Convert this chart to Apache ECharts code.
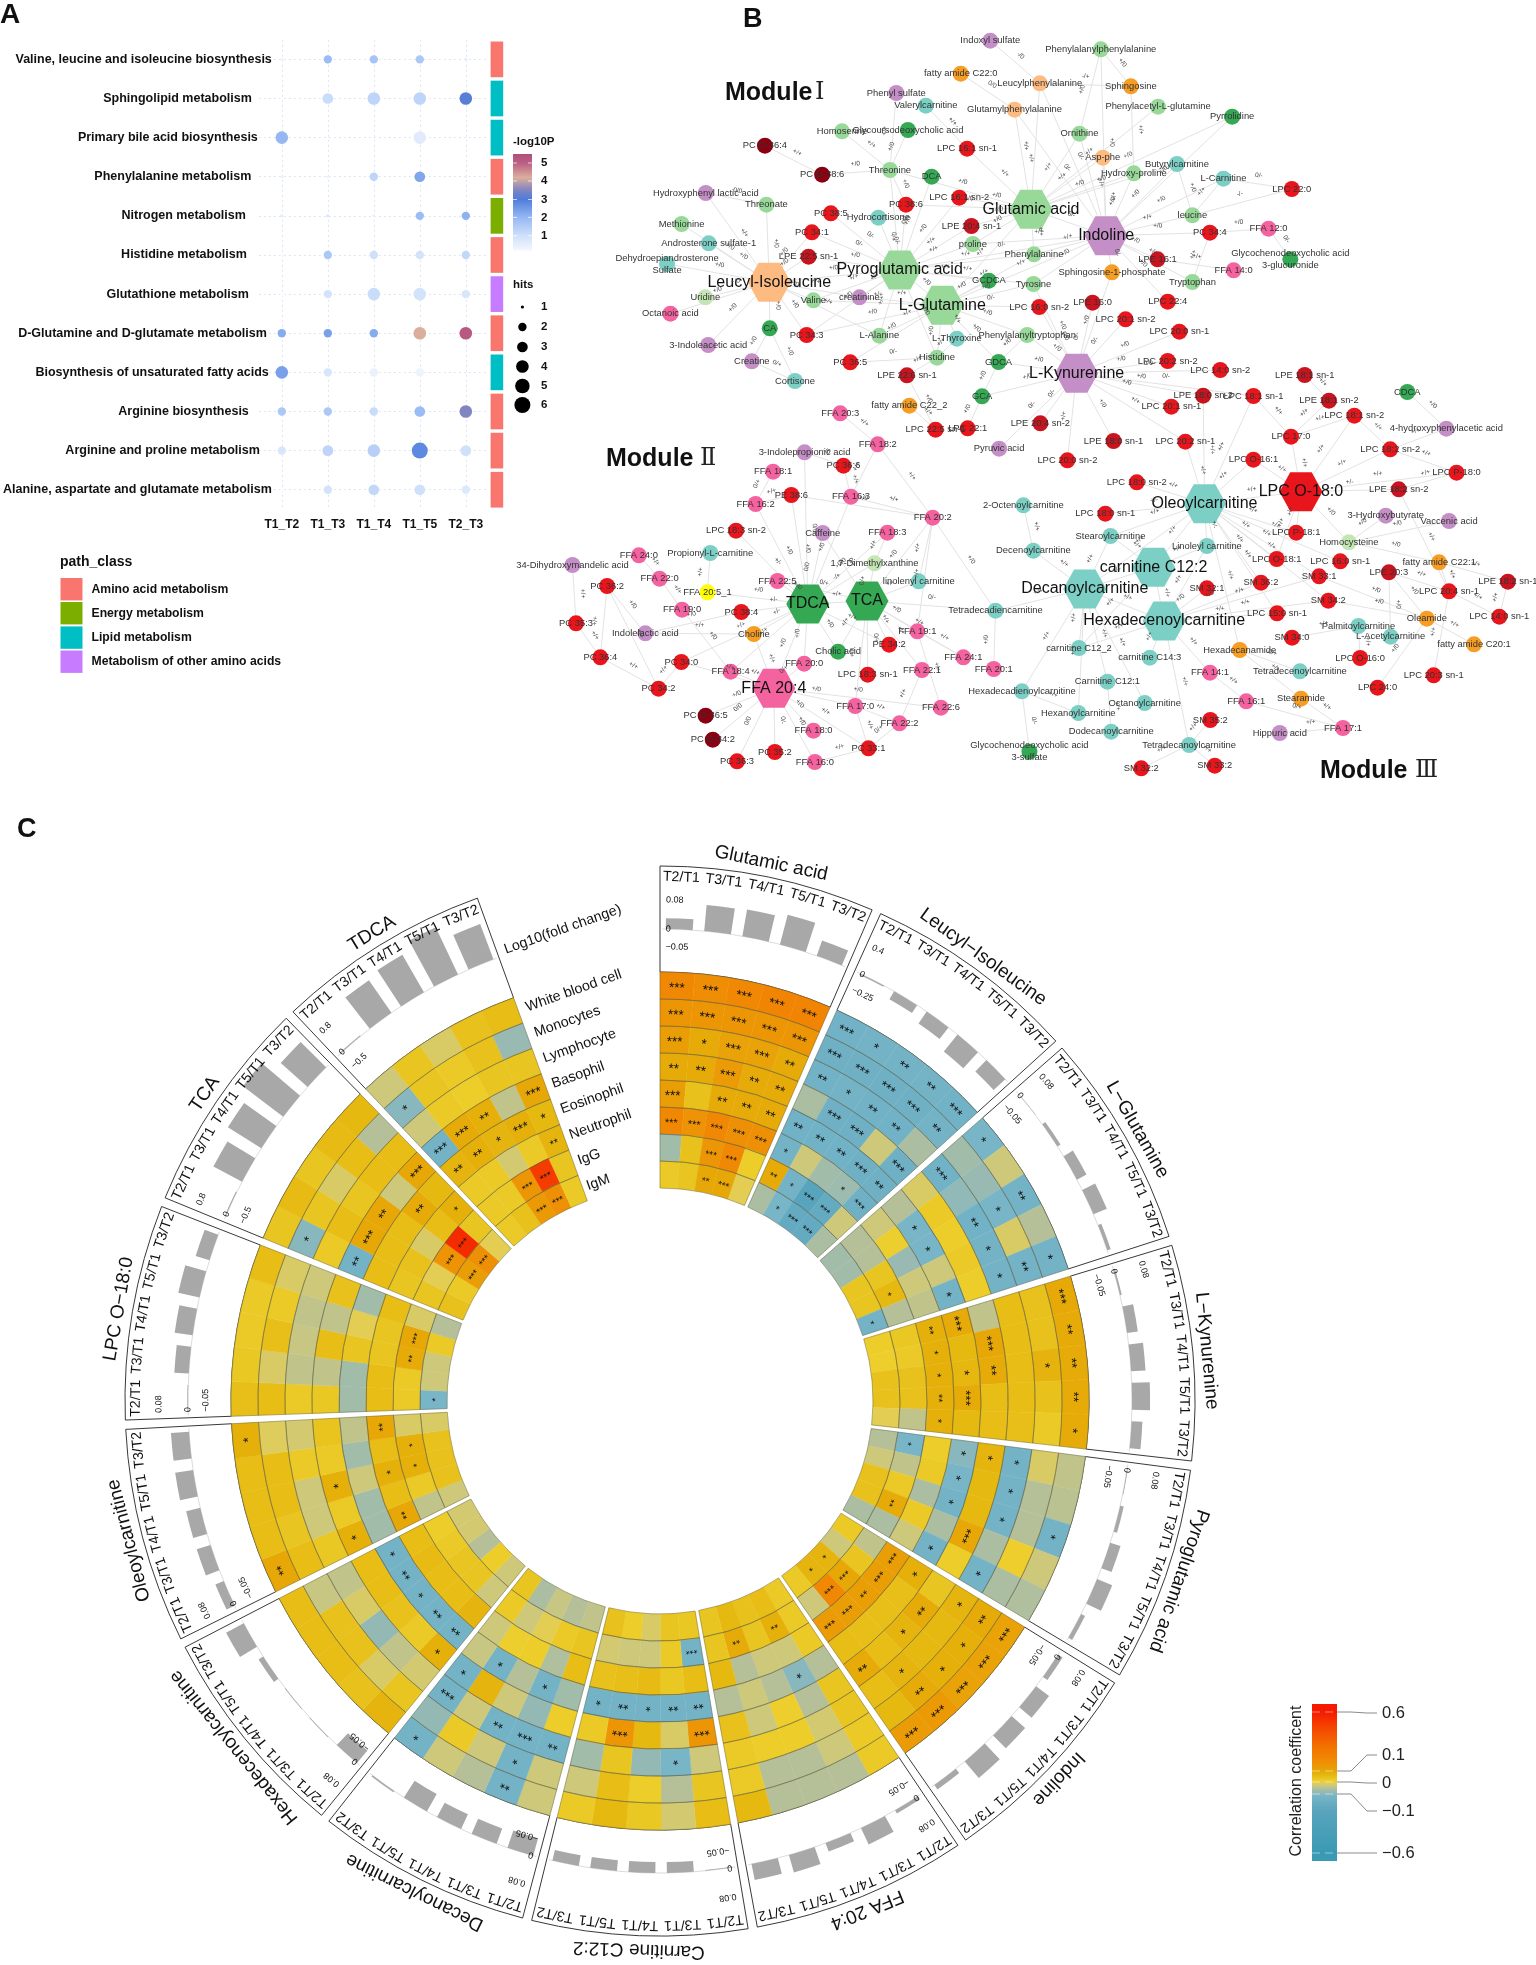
<!DOCTYPE html>
<html><head><meta charset="utf-8">
<style>html,body{margin:0;padding:0;background:#fff}#c{width:1536px;height:1965px}</style>
<script src="https://cdn.jsdelivr.net/npm/echarts@6/dist/echarts.min.js"></script>
</head><body><div id="c"></div>
<script>
/* ---------- Panel A data ---------- */
const pathways=["Valine, leucine and isoleucine biosynthesis","Sphingolipid metabolism","Primary bile acid biosynthesis","Phenylalanine metabolism","Nitrogen metabolism","Histidine metabolism","Glutathione metabolism","D-Glutamine and D-glutamate metabolism","Biosynthesis of unsaturated fatty acids","Arginine biosynthesis","Arginine and proline metabolism","Alanine, aspartate and glutamate metabolism"];
const comparisons=["T1_T2","T1_T3","T1_T4","T1_T5","T2_T3"];
const pathClass=[0,2,2,0,1,0,3,0,2,0,0,0];
const classNames=["Amino acid metabolism","Energy metabolism","Lipid metabolism","Metabolism of other amino acids"];
const logP=[[.3,1.9,1.7,1.6,.5],[.1,1.1,1.3,1.3,3.1],[2,null,null,.6,null],[.4,.4,1.3,2.3,.4],[.6,.8,.4,1.9,2.1],[.2,1.6,1,.9,1.2],[.1,.9,1.1,.9,.8],[2.2,2.4,2.2,4.2,5.2],[2.4,.8,.4,.3,null],[1.6,1.6,1.1,1.9,3.5],[.8,1.3,1.4,2.8,1],[.1,.9,1.2,1,.7]];
const hits=[[1,2,2,2,1],[1,3,4,4,4],[4,0,0,4,0],[1,1,2,3,1],[1,1,1,2,2],[1,2,2,2,2],[1,2,4,4,2],[2,2,2,4,4],[4,2,2,2,0],[2,2,2,3,4],[2,3,4,6,3],[1,2,3,3,2]];

/* ---------- Panel B data: [name, class, x, y] as read in three crops of the picture ---------- */
const nodesUpper=[["Indoxyl sulfate","p",764,122],["Phenylalanylphenylalanine","g",992,148],["fatty amide C22:0","o",703,221],["Leucylphenylalanine","d",866,250],["Sphingosine","o",1054,259],["Phenyl sulfate","p",570,279],["Valerylcarnitine","t",631,317],["Glutamylphenylalanine","d",814,329],["Phenylacetyl-L-glutamine","g",1110,320],["Pyrrolidine","b",1263,350],["Homoserine","g",458,394],["Glycoursodeoxycholic acid","b",594,390],["Ornithine","g",948,401],["PC O-36:4","k",299,437],["LPC 16:1 sn-1","r",716,446],["Asp-phe","d",996,473],["Butyrylcarnitine","t",1149,492],["PC O-38:6","k",417,524],["Threonine","g",557,510],["DCA","b",643,530],["Hydroxy-proline","g",1060,520],["L-Carnitine","t",1245,536],["LPC 22:0","r",1386,567],["Hydroxyphenyl lactic acid","p",177,579],["Threonate","g",302,614],["LPC 16:1 sn-2","r",700,593],["PC 38:6","r",590,614],["PC 38:5","r",435,640],["Hydrocortisone","t",533,653],["Glutamic acid","G",848,628],["leucine","g",1181,646],["FFA 12:0","f",1338,686],["Methionine","g",127,672],["PC 34:1","r",396,697],["LPE 20:4 sn-1","e",725,678],["Indoline","P",1003,707],["PC 34:4","r",1217,698],["Androsterone sulfate-1","t",183,730],["proline","g",728,732],["Phenylalanine","g",854,763],["Glycochenodeoxycholic acid\n3-glucuronide","b",1383,778],["LPE 22:5 sn-1","e",389,770],["LPE 16:1","e",1109,778],["Dehydroepiandrosterone\nSulfate","t",97,792],["Pyroglutamic acid","G",577,810],["FFA 14:0","f",1266,811],["Sphingosine-1-phosphate","o",1015,817],["Leucyl-Isoleucine","D",308,847],["GCDCA","b",761,842],["Tyrosine","g",853,852],["Tryptophan","g",1181,846],["Uridine","l",176,892],["creatinine","p",494,892],["Valine","g",399,901],["L-Glutamine","G",665,916],["LPC 22:4","r",1130,905],["LPE 16:0","e",975,908],["Octanoic acid","f",104,941],["LPC 16:0 sn-2","r",865,921],["LPC 20:1 sn-2","r",1043,958],["CA","b",309,985],["PC 34:3","r",385,1005],["L-Alanine","g",535,1007],["L-Thyroxine","t",695,1016],["Phenylalanyltryptophan","g",840,1005],["LPC 20:0 sn-1","r",1154,995],["3-Indoleacetic acid","p",182,1035],["Histidine","g",654,1073],["GDCA","b",781,1086],["PC 36:5","r",475,1087],["L-Kynurenine","P",942,1120],["LPC 20:2 sn-2","r",1130,1083],["Creatine","p",272,1084],["Cortisone","t",361,1143],["LPE 22:6 sn-1","e",592,1126],["GCA","b",747,1189],["fatty amide C22_2","o",597,1217]];
const nodesLeft=[["FFA 20:3","f",953,40],["LPC 22:5 sn-1","r",1220,89],["LPC 22:1","r",1310,85],["Pyruvic acid","p",1398,146],["FFA 18:2","f",1058,133],["3-Indolepropionic acid","p",853,157],["PC 36:6","r",962,197],["FFA 18:1","f",765,215],["PE 38:6","r",816,285],["FFA 16:3","f",983,290],["FFA 16:2","f",716,312],["2-Octenoylcarnitine","t",1466,316],["FFA 20:2","f",1212,353],["LPC 18:3 sn-2","r",661,392],["Caffeine","p",904,399],["FFA 18:3","f",1085,398],["Decenoylcarnitine","t",1494,452],["Propionyl-L-carnitine","t",589,459],["FFA 24:0","f",389,466],["34-Dihydroxymandelic acid","p",203,495],["1,7-Dimethylxanthine","l",1049,490],["FFA 22:0","f",447,536],["PC 36:2","r",300,558],["FFA 22:5","f",777,543],["linolenyl carnitine","t",1173,544],["FFA 20:5_1","y",581,577],["TDCA","B",862,612],["TCA","B",1028,603],["FFA 19:0","f",510,629],["Tetradecadiencarnitine","t",1388,632],["PC 38:4","r",676,636],["PC 35:3","r",213,670],["Indolelactic acid","p",407,700],["Choline","o",711,702],["FFA 19:1","f",1169,694],["Cholic acid","b",947,755],["PE 34:2","r",1090,734],["PC 36:4","r",281,772],["PC 34:0","r",508,786],["FFA 24:1","f",1298,772],["FFA 20:0","f",852,791],["FFA 18:4","f",646,815],["FFA 22:1","f",1182,810],["FFA 20:1","f",1383,807],["LPC 18:3 sn-1","r",1030,824],["PC 34:2","r",444,866],["FFA 20:4","F",767,865],["Hexadecadienoylcarnitine","t",1462,874],["FFA 17:0","f",995,918],["FFA 22:6","f",1235,923],["PC O-36:5","k",576,947],["FFA 22:2","f",1119,970],["PC O-34:2","k",596,1019],["FFA 18:0","f",878,992],["PC 33:1","r",1032,1045],["PC 35:2","r",770,1056],["PC 36:3","r",664,1084],["FFA 16:0","f",882,1086],["Glycochenodeoxycholic acid\n3-sulfate","b",1483,1055]];
const nodesRight=[["LPC 14:0 sn-2","r",644,30],["LPE 18:1 sn-1","e",891,45],["CDCA","b",1191,96],["LPE 18:0 sn-2","e",594,107],["LPC 18:1 sn-1","r",741,108],["LPE 18:1 sn-2","e",962,122],["LPC 20:1 sn-1","r",501,140],["LPC 18:1 sn-2","r",1036,167],["LPE 20:4 sn-2","e",118,190],["4-hydroxyphenylacetic acid","p",1305,206],["LPC 17:0","r",851,230],["LPE 18:0 sn-1","e",332,243],["LPC 20:2 sn-1","r",542,245],["LPC 18:2 sn-2","r",1141,268],["LPC O-16:1","r",741,299],["LPC 20:0 sn-2","r",197,301],["LPC P-18:0","r",1335,338],["LPC 18:0 sn-2","r",400,367],["LPC O-18:0","R",880,395],["LPE 18:2 sn-2","e",1166,388],["Oleoylcarnitine","T",598,431],["LPC 18:0 sn-1","r",308,461],["3-Hydroxybutyrate","p",1128,467],["Vaccenic acid","p",1313,483],["LPC P-18:1","r",866,518],["Stearoylcarnitine","t",323,528],["Homocysteine","l",1020,547],["Linoleyl carnitine","t",605,558],["carnitine C12:2","T",449,622],["LPC O-18:1","r",809,597],["LPC 16:0 sn-1","r",995,604],["fatty amide C22:1","o",1284,607],["LPE 20:3","e",1137,637],["SM 33:1","r",933,649],["SM 36:2","r",763,668],["LPE 18:2 sn-1","e",1485,665],["Decanoylcarnitine","T",248,687],["SM 32:1","r",605,685],["LPC 20:4 sn-1","r",1313,694],["SM 34:2","r",960,722],["Hexadecenoylcarnitine","T",480,783],["LPC 15:0 sn-1","r",810,760],["LPC 14:0 sn-1","r",1460,770],["Oleamide","o",1248,776],["Palmitoylcarnitine","t",1048,798],["L-Acetylcarnitine","t",1142,830],["SM 34:0","r",854,833],["fatty amide C20:1","o",1386,853],["carnitine C12_2","t",231,864],["Hexadecanamide","o",701,870],["carnitine C14:3","t",438,893],["LPC O-16:0","r",1053,894],["Tetradecenoylcarnitine","t",877,934],["LPC 20:3 sn-1","r",1268,946],["FFA 14:1","f",614,938],["Carnitine C12:1","t",314,965],["LPC 24:0","r",1104,983],["Stearamide","o",880,1016],["FFA 16:1","f",720,1024],["Octanoylcarnitine","t",423,1029],["Hexanoylcarnitine","t",229,1059],["SM 35:2","r",615,1080],["FFA 17:1","f",1003,1104],["Hippuric acid","p",818,1119],["Dodecanoylcarnitine","t",325,1115],["Tetradecanoylcarnitine","t",553,1155],["SM 32:2","r",413,1225],["SM 33:2","r",628,1217]];
/* edges: [from, sign, [to...]] */
const edgeGroups=[
["Glutamic acid","+/+",["Leucylphenylalanine","Glutamylphenylalanine","Ornithine","Asp-phe","LPC 16:1 sn-1","Phenylacetyl-L-glutamine","Phenylalanine"]],
["Glutamic acid","+/0",["Hydroxy-proline","Butyrylcarnitine","LPC 16:1 sn-2","proline","LPE 20:4 sn-1","PC 38:6","Threonine","Pyrrolidine"]],
["Indoline","+/+",["Ornithine","Asp-phe","leucine","Phenylalanine","Tryptophan","L-Glutamine","proline"]],
["Indoline","+/0",["Hydroxy-proline","Butyrylcarnitine","L-Carnitine","PC 34:4","LPE 16:1","Pyrrolidine","Tyrosine","LPC 22:4","Phenylalanylphenylalanine"]],
["Indoline","0/-",["Sphingosine-1-phosphate","Glutamic acid","Pyroglutamic acid","Leucylphenylalanine","Glutamylphenylalanine"]],
["Indoxyl sulfate","-/0",["Leucylphenylalanine"]],["Phenylalanylphenylalanine","+/0",["Sphingosine","Ornithine"]],["fatty amide C22:0","0/0",["Glutamylphenylalanine"]],["Leucylphenylalanine","-/+",["Sphingosine"]],["Sphingosine","+/+",["Hydroxy-proline"]],["Phenyl sulfate","+/+",["Threonine"]],["Valerylcarnitine","+/+",["LPC 16:1 sn-1"]],["Homoserine","+/+",["Threonine"]],["Glycoursodeoxycholic acid","+/0",["Threonine"]],["PC O-36:4","+/+",["PC O-38:6"]],["PC O-38:6","+/0",["Threonine"]],["Threonine","+/0",["PC 38:6"]],["L-Carnitine","+/+",["leucine"]],["Butyrylcarnitine","+/0",["leucine"]],["L-Carnitine","0/-",["LPC 22:0"]],["leucine","-/-",["LPC 22:0"]],["PC 34:4","+/0",["FFA 12:0"]],["PC 34:4","+/+",["Tryptophan"]],["FFA 12:0","0/-",["Glycochenodeoxycholic acid\n3-glucuronide"]],["FFA 14:0","+/+",["LPE 16:1"]],["Hydroxyphenyl lactic acid","0/0",["Threonate"]],
["Leucyl-Isoleucine","+/0",["Threonate","Methionine","Androsterone sulfate-1","Dehydroepiandrosterone\nSulfate","LPE 22:5 sn-1","PC 34:1","Uridine","Octanoic acid","CA","3-Indoleacetic acid","PC 34:3","Valine","Pyroglutamic acid"]],
["Leucyl-Isoleucine","+/+",["creatinine","L-Alanine","Hydroxyphenyl lactic acid"]],["CA","+/0",["Cortisone"]],["Creatine","0/+",["Cortisone"]],["CA","+/0",["Creatine"]],
["Pyroglutamic acid","0/-",["Hydrocortisone","PC 34:1","PC 38:5"]],
["Pyroglutamic acid","+/0",["LPE 22:5 sn-1","PC 38:6","LPC 16:1 sn-2","DCA","Threonine","L-Glutamine","Histidine","PC 34:3"]],
["Pyroglutamic acid","+/+",["proline","LPE 20:4 sn-1","Phenylalanine","GCDCA","Tyrosine","creatinine","Valine","L-Alanine"]],
["L-Glutamine","+/+",["creatinine","Valine","L-Alanine","L-Thyroxine","Phenylalanine","Glutamic acid"]],
["L-Glutamine","+/0",["PC 34:3","Histidine","PC 36:5","GCDCA","GDCA","Phenylalanyltryptophan","Tyrosine"]],["L-Glutamine","0/-",["LPC 16:0 sn-2"]],
["L-Kynurenine","+/0",["Phenylalanyltryptophan","LPC 20:0 sn-1","LPC 20:2 sn-2","LPC 20:1 sn-1","LPE 18:0 sn-2","GDCA","GCA","Tyrosine","Sphingosine-1-phosphate","LPE 18:0 sn-1"]],
["L-Kynurenine","0/0",["LPC 14:0 sn-2","LPC 16:0 sn-2"]],["L-Kynurenine","0/-",["LPE 16:0","LPC 20:1 sn-2","LPC 18:1 sn-1","LPE 20:4 sn-2","Pyruvic acid"]],["L-Kynurenine","+/+",["LPC 20:2 sn-1","LPC 20:0 sn-2"]],
["L-Thyroxine","+/+",["Histidine"]],["Histidine","0/-",["PC 36:5"]],["LPE 22:6 sn-1","+/+",["Histidine"]],["GCA","+/0",["GDCA"]],["GDCA","+/0",["Phenylalanyltryptophan"]],["fatty amide C22_2","+/+",["LPC 22:5 sn-1"]],["LPC 22:1","+/0",["GCA"]],["LPC 22:5 sn-1","+/0",["LPE 22:6 sn-1"]],
["TDCA","+/0",["FFA 22:5","FFA 20:5_1","FFA 20:0","Cholic acid","FFA 20:4","FFA 16:2","FFA 16:3","PE 38:6"]],["TDCA","0/0",["Caffeine","3-Indolepropionic acid","FFA 18:3"]],["TDCA","+/-",["PC 38:4","Choline","LPC 18:3 sn-2"]],["TDCA","+/+",["PE 34:2","TCA","PC 34:0","FFA 18:4"]],["TDCA","-/+",["1,7-Dimethylxanthine"]],
["TCA","0/+",["FFA 22:5","1,7-Dimethylxanthine","LPC 18:3 sn-1","Caffeine"]],["TCA","+/-",["linolenyl carnitine"]],["TCA","0/-",["Tetradecadiencarnitine"]],["TCA","+/0",["FFA 19:1","FFA 20:2","FFA 17:0"]],["TCA","+/+",["PE 34:2","Cholic acid","FFA 24:1","FFA 22:1"]],
["FFA 20:4","+/+",["FFA 18:4","PC 34:0","Choline","PC 33:1"]],["FFA 20:4","0/+",["FFA 20:0"]],["FFA 20:4","+/0",["FFA 17:0","FFA 22:6","PC O-36:5","FFA 18:0","FFA 16:0"]],["FFA 20:4","0/0",["PC O-34:2","PC 36:3"]],["FFA 20:4","0/-",["PC 35:2"]],
["FFA 20:3","+/+",["FFA 18:2"]],["FFA 18:2","+/+",["FFA 16:3","FFA 20:2"]],["FFA 18:1","0/+",["FFA 16:2"]],["FFA 16:2","+/+",["PE 38:6"]],["PE 38:6","+/0",["FFA 20:2"]],["3-Indolepropionic acid","-/0",["PC 36:6"]],["PC 36:6","+/+",["FFA 16:3"]],["FFA 16:3","+/+",["FFA 20:2"]],["FFA 18:3","+/+",["1,7-Dimethylxanthine"]],["FFA 20:2","+/+",["linolenyl carnitine","FFA 19:1"]],["FFA 20:2","+/0",["Tetradecadiencarnitine"]],["FFA 24:0","+/+",["FFA 22:0"]],["FFA 22:0","+/+",["FFA 19:0"]],["Propionyl-L-carnitine","+/+",["FFA 20:5_1"]],["34-Dihydroxymandelic acid","+/+",["PC 35:3"]],["PC 35:3","+/+",["PC 36:4"]],["PC 36:2","+/+",["PC 36:4"]],["PC 36:2","+/0",["Indolelactic acid"]],["PC 36:2","+/+",["PC 34:2"]],["PC 36:4","+/+",["PC 34:2"]],["PC 34:2","+/+",["PC 34:0"]],["Indolelactic acid","+/+",["Choline"]],["FFA 19:0","+/0",["FFA 18:4"]],["PC 38:4","+/0",["Indolelactic acid"]],["FFA 19:1","+/+",["FFA 22:6","FFA 24:1"]],["FFA 22:1","+/+",["FFA 22:2"]],["FFA 17:0","+/+",["FFA 22:2","PC 33:1"]],["FFA 22:2","0/+",["PC 33:1"]],["FFA 16:0","+/+",["PC 33:1"]],["Tetradecadiencarnitine","+/0",["FFA 20:1"]],["2-Octenoylcarnitine","+/+",["Decenoylcarnitine"]],["Hexadecadienoylcarnitine","0/-",["Glycochenodeoxycholic acid\n3-sulfate"]],
["LPC O-18:0","+/+",["LPC 17:0","LPC O-16:1","LPC 18:2 sn-2","LPC P-18:0","LPC 18:1 sn-2","LPC P-18:1","LPC O-18:1","Oleoylcarnitine"]],["LPC O-18:0","+/-",["LPE 18:2 sn-2"]],["LPC O-18:0","+/0",["Homocysteine"]],
["Oleoylcarnitine","+/+",["LPE 18:0 sn-2","LPC 18:1 sn-1","LPC 20:2 sn-1","LPC 18:0 sn-2","LPC O-16:1","Stearoylcarnitine","carnitine C12:2","LPC P-18:1","LPC O-18:1","SM 36:2","SM 33:1","SM 34:2","LPC 15:0 sn-1","Hexadecanamide","LPC 16:0 sn-1","Decanoylcarnitine"]],["Oleoylcarnitine","+/-",["LPC 18:0 sn-1","Linoleyl carnitine"]],
["Hexadecenoylcarnitine","+/+",["SM 34:2","carnitine C12_2","carnitine C14:3","FFA 14:1","Tetradecanoylcarnitine","Decanoylcarnitine","carnitine C12:2","Linoleyl carnitine","SM 33:1","LPC 15:0 sn-1"]],["Hexadecenoylcarnitine","+/0",["SM 32:1","SM 36:2"]],
["Decanoylcarnitine","+/+",["Decenoylcarnitine","Tetradecadiencarnitine","Stearoylcarnitine","carnitine C12_2","Hexadecadienoylcarnitine","Hexanoylcarnitine","Carnitine C12:1","carnitine C12:2","Octanoylcarnitine"]],["carnitine C12:2","+/+",["Stearoylcarnitine","Linoleyl carnitine","carnitine C12_2"]],
["LPE 18:1 sn-1","+/+",["LPE 18:1 sn-2"]],["LPC 18:1 sn-1","+/+",["LPC 17:0"]],["LPE 18:1 sn-2","+/+",["LPC 17:0"]],["LPC 18:1 sn-2","+/+",["LPC 17:0","LPC 18:2 sn-2"]],["LPC 18:2 sn-2","+/+",["LPC P-18:0","4-hydroxyphenylacetic acid"]],["LPC P-18:0","+/+",["LPE 18:2 sn-2"]],["4-hydroxyphenylacetic acid","+/0",["CDCA"]],["LPE 18:2 sn-2","+/+",["LPC 20:4 sn-1"]],["Vaccenic acid","+/0",["Homocysteine"]],["3-Hydroxybutyrate","+/0",["Homocysteine"]],["fatty amide C22:1","+/0",["Homocysteine"]],["fatty amide C22:1","+/+",["LPE 18:2 sn-1","LPC 20:4 sn-1"]],["LPE 18:2 sn-1","+/+",["LPC 14:0 sn-1"]],["LPC 20:4 sn-1","+/+",["LPC 14:0 sn-1","LPC 20:3 sn-1","LPE 20:3"]],["Oleamide","+/+",["fatty amide C20:1"]],["Oleamide","+/0",["SM 34:2","LPC 24:0","LPE 20:3","SM 33:1"]],["L-Acetylcarnitine","+/0",["LPE 20:3"]],["Palmitoylcarnitine","+/+",["SM 34:0"]],["LPC O-16:0","+/+",["Palmitoylcarnitine"]],["Tetradecenoylcarnitine","0/+",["Hexadecanamide"]],["Tetradecanoylcarnitine","+/+",["SM 32:2","SM 33:2","SM 35:2"]],["FFA 14:1","+/+",["FFA 16:1"]],["FFA 16:1","0/+",["FFA 17:1"]],["Stearamide","+/+",["FFA 17:1"]],["Hexadecanamide","+/+",["Stearamide"]],["Hippuric acid","+/+",["FFA 17:1"]],["Carnitine C12:1","+/+",["Dodecanoylcarnitine"]],["Hexanoylcarnitine","+/+",["Hexadecadienoylcarnitine"]]
];

/* ---------- Panel C data ---------- */
const sectorNames=["Glutamic acid","Leucyl−Isoleucine","L−Glutamine","L−Kynurenine","Pyroglutamic acid","Indoline","FFA 20:4","Carnitine C12:2","Decanoylcarnitine","Hexadecenoylcarnitine","Oleoylcarnitine","LPC O−18:0","TCA","TDCA"];
const timeLabels=["T2/T1","T3/T1","T4/T1","T5/T1","T3/T2"];
const rowNames=["White blood cell","Monocytes","Lymphocyte","Basophil","Eosinophil","Neutrophil","IgG","IgM"];
const heatGlutamicAcid=[[.2,.18,.2,.22,.22],[.15,.15,.15,.15,.15],[.12,.09,.11,.11,.09],[.09,.09,.13,.09,.09],[.12,.04,.09,.09,.09],[.2,.16,.2,.17,.17],[-.07,.04,.15,.2,.015],[.02,.03,.1,.1,-.01]];
const heatLeucylIsoleucine=[[-.14,-.13,-.13,-.13,-.14],[-.15,-.15,-.15,-.15,-.13],[-.14,-.13,-.14,-.14,-.06],[-.06,-.15,-.15,-.03,-.15],[-.14,-.14,-.14,-.15,-.15],[-.13,-.03,-.07,-.075,-.15],[.09,-.13,-.25,-.2,-.03],[-.06,-.12,-.2,-.2,-.06]];
const heatLGlutamine=[[-.12,-.03,-.13,-.05,-.13],[-.07,-.08,-.12,-.02,-.13],[-.14,-.09,-.14,-.13,-.13],[-.02,.02,.015,.02,.015],[-.05,-.12,-.12,-.03,-.13],[-.03,.01,-.08,-.03,-.04],[-.05,-.05,.03,.06,-.05],[-.07,-.07,.03,.03,-.13]];
const heatLKynurenine=[[.095,.09,.09,.09,.09],[.04,.04,.075,.04,.02],[.05,.05,.05,.05,.045],[-.04,.1,.09,.05,.05],[.09,.06,.065,.09,.06],[.08,.08,.08,.08,.08],[.025,.02,.04,.04,-.04],[.015,.012,.04,.04,-.01]];
const heatPyroglutamicAcid=[[-.04,-.045,-.13,-.03,-.055],[-.02,-.05,-.05,.012,-.06],[-.13,-.13,-.13,-.06,-.13],[.07,.06,.06,.1,.015],[-.1,-.12,-.13,-.06,-.13],[.015,.02,-.06,.02,-.03],[-.12,-.04,.02,.09,-.06],[-.05,-.03,.04,.04,-.06]];
const heatIndoline=[[.11,.11,.11,.14,.13],[.09,.08,.08,.09,.06],[.07,.06,.06,.07,.05],[.03,.09,.07,.05,.09],[.08,.045,.045,.045,.05],[.12,.12,.12,.12,.13],[-.04,.03,.1,.2,-.03],[.02,-.03,.07,.07,.02]];
const heatFFA204=[[.02,-.05,-.05,-.05,.06],[.02,-.03,-.05,-.05,.02],[.03,-.025,.015,.015,.02],[.03,-.05,.012,-.03,.04],[-.05,-.1,-.05,-.03,-.05],[.02,-.03,-.03,-.05,.06],[.02,.08,.03,.09,.03],[.02,.05,.04,.06,.03]];
const heatCarnitineC122=[[.05,-.025,.025,.06,.02],[.03,-.05,.015,.05,-.03],[-.03,-.12,-.085,.03,-.07],[.15,-.02,.06,.15,.02],[-.13,-.13,-.13,-.13,-.13],[.05,.025,.055,.045,.04],[-.13,.02,-.03,-.03,-.025],[.025,.03,-.02,.015,.04]];
const heatDecanoyl=[[-.03,-.13,-.05,-.03,-.13],[-.03,-.13,-.03,.02,-.085],[-.13,-.13,-.13,-.03,-.13],[.015,-.085,-.03,.07,-.13],[-.07,-.13,-.05,-.13,-.035],[.05,-.055,.015,.01,-.03],[.03,.02,-.01,-.03,.02],[-.04,-.05,-.035,-.06,.03]];
const heatHexadecenoyl=[[.07,.04,.05,.05,.05],[.03,-.02,.04,.04,-.035],[-.025,-.04,-.085,-.02,-.04],[.08,.02,.04,.05,.05],[-.13,-.13,-.13,-.13,-.13],[.07,.05,.05,.055,.05],[-.03,.03,.03,.02,.015],[-.03,.015,-.05,-.025,-.025]];
const heatOleoyl=[[.1,.05,.05,.05,.08],[.05,.03,.05,.05,-.015],[.025,-.03,-.03,.02,-.025],[.08,.02,.08,.02,.035],[-.07,-.07,-.03,-.07,-.04],[.1,.05,.08,.05,.1],[-.04,.02,.08,.08,-.02],[-.03,.04,.04,.04,-.02]];
const heatLPCO180=[[.045,.025,.02,.02,.05],[.05,-.02,.045,.02,-.02],[.02,-.04,-.035,-.04,-.03],[.025,-.04,.05,-.04,.04],[-.07,-.07,.03,-.01,-.07],[.05,.05,.03,.03,.05],[.02,.02,.09,.1,-.02],[-.12,-.03,-.03,.02,-.05]];
const heatTCA=[[.03,.055,.03,.055,.06],[-.1,.03,-.02,.05,-.05],[.02,.05,.03,.05,.05],[-.13,.1,.1,-.03,.1],[.05,.05,.05,.09,.06],[.03,.04,-.02,.05,.08],[.03,-.01,.16,.55,.03],[.04,.02,.12,.17,-.01]];
const heatTDCA=[[-.03,.03,-.02,.04,.05],[-.1,.03,.02,.04,-.08],[-.03,.02,.015,.03,.03],[-.13,.09,.08,-.04,.1],[.07,.08,.07,.08,.06],[.02,.02,-.025,.02,.07],[.02,.02,.15,.5,.03],[.02,.04,.14,.17,.02]];
const heatValues=[heatGlutamicAcid,heatLeucylIsoleucine,heatLGlutamine,heatLKynurenine,heatPyroglutamicAcid,heatIndoline,heatFFA204,heatCarnitineC122,heatDecanoyl,heatHexadecenoyl,heatOleoyl,heatLPCO180,heatTCA,heatTDCA];
/* number of asterisks in each cell */
const starCounts=[["33333","33333","31332","22322","30222","33333","00330","00230"],["31223","33332","21220","03303","22232","10013","21330","01330"],["10201","00102","30211","00000","01101","00000","00010","00001"],["32221","00100","00000","03200","30130","21121","00000","00000"],["00100","00000","11101","10030","11101","00000","10020","00000"],["33333","21120","10010","02102","10000","33233","00330","00110"],["00000","00000","00000","00000","01000","00000","02020","00000"],["00000","00000","01000","30030","22121","00000","30000","00000"],["02001","01000","23203","00001","01010","00000","00000","00000"],["00000","00000","00000","10000","22121","00000","00000","00000"],["20001","00000","00000","10100","00000","20102","00110","00000"],["00000","00000","00000","00000","00000","00000","00230","10000"],["00000","10000","00000","23203","00020","00001","00330","00330"],["00000","10000","00000","33203","22131","00002","00330","00330"]];
const foldChange=[[.03,.072,.075,.085,.045],[-.02,-.13,-.2,-.3,-.22],[.001,.01,.03,.04,.01],[.005,.03,.04,.05,.03],[.002,.01,.03,.045,.012],[.015,.045,.05,.06,.015],[.01,.05,.025,.05,.045],[-.002,-.03,-.03,-.03,-.03],[-.05,-.045,-.045,-.055,.004],[-.045,.002,.002,.015,.055],[.025,.04,.04,.05,.05],[.002,.04,.05,.06,.04],[.03,.9,1.1,1.4,1],[.03,1.1,1.2,1.45,1.05]];
const foldTicks=[["0.08","−0.05"],["0.4","−0.25"],["0.08","−0.05"],["0.08","−0.05"],["0.08","−0.05"],["0.08","−0.05"],["0.08","−0.05"],["0.08","−0.05"],["0.08","−0.05"],["0.08","−0.05"],["0.08","−0.05"],["0.08","−0.05"],["0.8","−0.5"],["0.8","−0.5"]];

/* ---------- colour scales ---------- */
function hexRgb(h){return [parseInt(h.slice(1,3),16),parseInt(h.slice(3,5),16),parseInt(h.slice(5,7),16)];}
function ramp(stops,v){
  if(v<=stops[0][0])return stops[0][1];
  for(let i=1;i<stops.length;i++){if(v<=stops[i][0]){
    const t=(v-stops[i-1][0])/(stops[i][0]-stops[i-1][0]),a=hexRgb(stops[i-1][1]),b=hexRgb(stops[i][1]);
    return 'rgb('+a.map((c,k)=>Math.round(c+(b[k]-c)*t)).join(',')+')';}}
  return stops[stops.length-1][1];
}
const corrStops=[[-.6,'#3a9ab3'],[-.25,'#58a4bc'],[-.15,'#6fb0c5'],[-.12,'#77b5c7'],[-.08,'#98bab2'],[-.05,'#b5c099'],[-.03,'#cdc87a'],[-.01,'#e3cd52'],[.012,'#edce2c'],[.03,'#e9c521'],[.06,'#e6b911'],[.09,'#e6ab08'],[.12,'#ea9e06'],[.2,'#f18804'],[.3,'#f27400'],[.5,'#f53c00'],[.6,'#f51a00']];
const pStops=[[.1,'#ffffff'],[.3,'#eef4fd'],[1,'#cfe0fa'],[2,'#95b8f3'],[3,'#4f7ddb'],[3.3,'#6a80cc'],[3.6,'#8d88bd'],[4.2,'#dbae9b'],[5,'#bb5f86'],[5.5,'#b0507a']];
const classColors=['#f8766d','#7cae00','#00bfc4','#c77cff'];
const hitSize={1:3.2,2:8.4,3:10.7,4:12.6,5:14.5,6:16};
const nodeColor={p:'#c48ec6',P:'#c48ec6',g:'#98d99a',G:'#98d99a',l:'#c4e6b4',o:'#f59d24',d:'#fdbb82',D:'#fdbb82',t:'#7ccfc4',T:'#7ccfc4',b:'#34a853',B:'#34a853',r:'#e8161c',R:'#e8161c',e:'#c9141f',k:'#8b0010',f:'#f4629f',F:'#f4629f',y:'#ffff00'};

/* ---------- build panel A ---------- */
const labelRight=[270,250,256,249.5,244,245,247,265,267,247,258,270];
const FONT='"Liberation Sans",Arial,sans-serif';
const richY={};labelRight.forEach((r,i)=>{richY['p'+i]={fontFamily:FONT,fontWeight:'bold',fontSize:12.5,color:'#111',padding:[0,271-r,0,0]};});
const bubbleData=[];logP.forEach((row,y)=>row.forEach((p,x)=>{if(p!==null&&hits[y][x]>0)bubbleData.push([x,y,p,hits[y][x]]);}));

/* ---------- build panel B ---------- */
const allNodes=[];
nodesUpper.forEach(n=>allNodes.push([n[0],n[1],620+n[2]*.4847,n[3]/3]));
nodesLeft.forEach(n=>allNodes.push([n[0],n[1],500+n[2]*.357,400+n[3]/3]));
nodesRight.forEach(n=>allNodes.push([n[0],n[1],1000+n[2]*.342,360+n[3]/3]));
const idx={};allNodes.forEach((n,i)=>{idx[n[0]]=i;});
const hexPath='path://M-2,0 L-1,-1.732 L1,-1.732 L2,0 L1,1.732 L-1,1.732 Z';
const graphNodes=allNodes.map(n=>{
  const hub=/[A-Z]/.test(n[1]);
  return {name:n[0],value:[n[2],n[3]],symbol:hub?hexPath:'circle',symbolSize:hub?[43,39]:16,itemStyle:{color:nodeColor[n[1]]},
    label:{show:true,position:'inside',fontFamily:FONT,fontSize:hub?16:9.4,color:hub?'#111':'#333',lineHeight:hub?17:12}};
});
const graphLinks=[];edgeGroups.forEach(g=>g[2].forEach(t=>{if(idx[g[0]]!==undefined&&idx[t]!==undefined)graphLinks.push({source:idx[g[0]],target:idx[t],sign:g[1]});else console.log('missing',g[0],t);}));

/* ---------- build panel C ---------- */
const CX=660,CY=1401,R_OUT=429,ROW=27,R_BAR=472,R_FRAME=535;
const PITCH=24.36,SPAN=23.36,COLW=SPAN/5;
const rad=a=>(a-90)*Math.PI/180;
const cellData=[],rowData=[],frameData=[],barData=[],textItems=[];
sectorNames.forEach((nm,s)=>{
  const a0=s*PITCH,a1=a0+SPAN;
  frameData.push([R_FRAME,a0,a1]);
  rowNames.forEach((rn,r)=>{
    const rr=R_OUT-ROW*r;
    rowData.push([rr,a0,a1]);
    for(let c=0;c<5;c++){
      const a=a0+COLW*(c+.5);
      cellData.push([rr-ROW/2,a,heatValues[s][r][c],+starCounts[s][r][c],r]);
    }
  });
  const scale=s===1?72.5:(s>=12?36:362);
  foldChange[s].forEach((v,c)=>barData.push([R_BAR+v*scale,a0+COLW*(c+.5),v]));
  textItems.push({r:549,a:a0+SPAN/2,text:nm,size:19,align:'center'});
  timeLabels.forEach((t,c)=>textItems.push({r:524,a:a0+COLW*(c+.5),text:t,size:14.2,align:'center'}));
  textItems.push({r:501,a:a0+.7,text:foldTicks[s][0],size:9,align:'left'});
  textItems.push({r:472,a:a0+.7,text:'0',size:9,align:'left'});
  textItems.push({r:454,a:a0+.7,text:foldTicks[s][1],size:9,align:'left'});
});
rowNames.forEach((t,r)=>textItems.push({r:R_OUT-ROW*(r+.5),a:341.2,text:t,size:14.3,align:'left',rot:-19.5}));
textItems.push({r:477,a:341,text:'Log10(fold change)',size:14.3,align:'left',rot:-19.5});

/* ---------- graphics (legends and panel letters) ---------- */
const g=[];
function T(text,x,y,o){o=o||{};g.push({type:'text',x,y,rotation:o.rot||0,silent:true,style:{text,fill:o.fill||'#111',font:(o.w||'normal')+' '+(o.s||12)+'px '+(o.f||FONT),textAlign:o.al||'left',textVerticalAlign:'middle',align:o.al||'left',verticalAlign:'middle'}});}
T('A',0,15,{s:28,w:'bold'});T('B',743,20,{s:27,w:'bold'});T('C',17,830,{s:27,w:'bold'});
T('-log10P',513,142,{s:11.5,w:'bold'});
g.push({type:'rect',shape:{x:513,y:154,width:19,height:98},silent:true,style:{fill:new echarts.graphic.LinearGradient(0,0,0,1,pStops.map(s=>({offset:(5.5-s[0])/5.4,color:s[1]})).reverse())}});
[[5,163],[4,181],[3,199.5],[2,217.4],[1,235.7]].forEach(t=>{T(String(t[0]),541,t[1],{s:11.5,w:'bold'});
 g.push({type:'line',shape:{x1:513,y1:t[1],x2:517,y2:t[1]},silent:true,style:{stroke:'#fff',lineWidth:.7}});g.push({type:'line',shape:{x1:528,y1:t[1],x2:532,y2:t[1]},silent:true,style:{stroke:'#fff',lineWidth:.7}});});
T('hits',513,285,{s:11.5,w:'bold'});
[1,2,3,4,5,6].forEach((h,i)=>{const y=[307,327,347,366.5,386,405][i];g.push({type:'circle',shape:{cx:522.4,cy:y,r:hitSize[h]/2},silent:true,style:{fill:'#000'}});T(String(h),541,y,{s:11.5,w:'bold'});});
T('path_class',60,562.6,{s:14,w:'bold'});
classNames.forEach((c,i)=>{const y=[578,602,626.4,650.5][i];g.push({type:'rect',shape:{x:60.5,y,width:22,height:22.4},silent:true,style:{fill:classColors[i]}});T(c,91.5,y+11.4,{s:12.2,w:'bold'});});
[['Ⅰ',725,93,815],['Ⅱ',606,459,700],['Ⅲ',1320,771,1415]].forEach(m=>{T('Module',m[1],m[2],{s:25,w:'bold'});T(m[0],m[3],m[2],{s:24,f:'"DejaVu Serif","Liberation Serif",serif',fill:'#222'});});
/* correlation colour legend */
const yOf=[[.6,1712],[.1,1771],[0,1782],[-.1,1794],[-.6,1853]];
function legendY(v){for(let i=1;i<yOf.length;i++){if(v>=yOf[i][0]){const t=(v-yOf[i][0])/(yOf[i-1][0]-yOf[i][0]);return yOf[i][1]+(yOf[i-1][1]-yOf[i][1])*t;}}return 1853;}
const barStops=corrStops.slice().reverse().map(s=>({offset:(legendY(s[0])-1704)/157,color:s[1]}));
barStops.unshift({offset:0,color:'#f51a00'});barStops.push({offset:1,color:'#3a9ab3'});
g.push({type:'rect',shape:{x:1312,y:1704,width:25,height:157},silent:true,style:{fill:new echarts.graphic.LinearGradient(0,0,0,1,barStops)}});
[[1712,1713,'0.6'],[1771,1755,'0.1'],[1782,1783,'0'],[1794,1811,'−0.1'],[1853,1853,'−0.6']].forEach(l=>{
  g.push({type:'line',shape:{x1:1312,y1:l[0],x2:1337,y2:l[0]},silent:true,style:{stroke:'#fff',opacity:.6,lineWidth:.8,lineDash:[8,5]}});
  const pts=l[0]===l[1]?[[1337,l[0]],[1377,l[1]]]:[[1337,l[0]],[1351,l[0]],[1367,l[1]],[1377,l[1]]];
  g.push({type:'polyline',shape:{points:pts},silent:true,style:{stroke:'#8a8a8a',lineWidth:1,fill:'none'}});
  T(l[2],1382,l[1],{s:16.5,fill:'#222'});
});
T('Correlation coefficent',1297,1781,{s:16,al:'center',rot:Math.PI/2,fill:'#222'});

/* ---------- option ---------- */
const polarCoordSeries=(name,data,render,z)=>({type:'custom',name,coordinateSystem:'polar',polarIndex:0,data,renderItem:render,silent:true,clip:false,animation:false,z:z||2,encode:{radius:0,angle:1}});
function textRender(p,api){
  const t=textItems[p.dataIndex];const pt=api.coord([t.r,t.a]);
  const rotDeg=t.rot!==undefined?t.rot:t.a;
  return {type:'text',x:pt[0],y:pt[1],rotation:-rotDeg*Math.PI/180,silent:true,style:{text:t.text,fill:'#111',font:t.size+'px '+FONT,align:t.align,verticalAlign:'middle',textAlign:t.align,textVerticalAlign:'middle'}};
}
const option={
  animation:false,
  backgroundColor:'#fff',
  graphic:{elements:g},
  grid:[{left:256.8,top:39.8,width:232,height:469.5},{left:490.6,top:39.8,width:12.6,height:469.5},{left:0,top:0,width:1536,height:830}],
  xAxis:[
    {gridIndex:0,type:'category',data:comparisons,axisLine:{show:false},axisTick:{show:false},axisLabel:{fontFamily:FONT,fontWeight:'bold',fontSize:12,color:'#111',margin:9,interval:0},splitLine:{show:true,alignWithLabel:true,lineStyle:{type:[2,3],color:'#dbe6f3',width:1}}},
    {gridIndex:1,type:'value',min:0,max:1,show:false},
    {gridIndex:2,type:'value',min:0,max:1536,show:false}
  ],
  yAxis:[
    {gridIndex:0,type:'category',inverse:true,data:pathways,axisLine:{show:false},axisTick:{show:false},axisLabel:{interval:0,margin:-14,formatter:(v,i)=>'{p'+i+'|'+v+'}',rich:richY},splitLine:{show:true,alignWithLabel:true,lineStyle:{type:[2,3],color:'#dbe6f3',width:1}}},
    {gridIndex:1,type:'category',inverse:true,data:pathways,show:false},
    {gridIndex:2,type:'value',inverse:true,min:0,max:830,show:false}
  ],
  polar:{center:[CX,CY],radius:[0,540]},
  radiusAxis:{type:'value',min:0,max:540,show:false},
  angleAxis:{type:'value',min:0,max:360,startAngle:90,clockwise:true,show:false},
  series:[
    {type:'graph',coordinateSystem:'cartesian2d',xAxisIndex:2,yAxisIndex:2,layout:'none',silent:true,animation:false,data:graphNodes,links:graphLinks,z:1,
      lineStyle:{color:'#e3e3e3',width:1,opacity:1,curveness:0},
      edgeLabel:{show:true,fontSize:6.5,fontFamily:FONT,color:'#444',formatter:p=>p.data.sign}},
    {type:'scatter',xAxisIndex:0,yAxisIndex:0,data:bubbleData,silent:true,symbolSize:d=>hitSize[d[3]],itemStyle:{color:p=>ramp(pStops,p.data[2]),opacity:1},z:3},
    {type:'bar',xAxisIndex:1,yAxisIndex:1,data:pathClass.map(c=>({value:1,itemStyle:{color:classColors[c]}})),barWidth:35.7,silent:true},
    polarCoordSeries('frames',frameData,(p,api)=>({type:'sector',shape:{cx:CX,cy:CY,r0:R_OUT,r:api.value(0),startAngle:rad(api.value(1)),endAngle:rad(api.value(2)),clockwise:true},silent:true,style:{fill:'#fff',stroke:'#222',lineWidth:.9}})),
    polarCoordSeries('baseline',frameData,(p,api)=>({type:'arc',shape:{cx:CX,cy:CY,r:R_BAR,startAngle:rad(api.value(1)+.3),endAngle:rad(api.value(2)-.3),clockwise:true},silent:true,style:{stroke:'#dcdcdc',lineWidth:1,fill:'none'}})),
    polarCoordSeries('foldChange',barData,(p,api)=>{const r=api.value(0),a=api.value(1),w=COLW*.35;return {type:'sector',shape:{cx:CX,cy:CY,r0:Math.min(r,R_BAR),r:Math.max(r,R_BAR),startAngle:rad(a-w),endAngle:rad(a+w),clockwise:true},silent:true,style:{fill:'#a8a8a8'}};}),
    polarCoordSeries('heat',cellData,(p,api)=>{
      const r=api.value(0),a=api.value(1),col=ramp(corrStops,api.value(2));
      return {type:'sector',shape:{cx:CX,cy:CY,r0:r-ROW/2,r:r+ROW/2,startAngle:rad(a-COLW/2),endAngle:rad(a+COLW/2),clockwise:true},silent:true,style:{fill:col,stroke:col,lineWidth:.4}};
    }),
    polarCoordSeries('rows',rowData,(p,api)=>({type:'sector',shape:{cx:CX,cy:CY,r0:api.value(0)-ROW,r:api.value(0),startAngle:rad(api.value(1)),endAngle:rad(api.value(2)),clockwise:true},silent:true,style:{fill:'none',stroke:'#5a5a40',lineWidth:.5,opacity:.85}})),
    polarCoordSeries('stars',cellData,(p,api)=>{
      const n=api.value(3);if(!n)return null;
      const row=api.value(4),a=api.value(1),size=row<5?13.5:(row===5?11:10);
      const pt=api.coord([api.value(0)-2.5,a]);
      return {type:'text',x:pt[0],y:pt[1],rotation:-a*Math.PI/180,silent:true,style:{text:'*'.repeat(n),fill:'#111',font:size+'px '+FONT,align:'center',verticalAlign:'middle',textAlign:'center',textVerticalAlign:'middle'}};
    }),
    polarCoordSeries('labels',textItems.map(t=>[t.r,t.a]),textRender)
  ]
};
const chart=echarts.init(document.getElementById('c'),null,{renderer:'canvas',width:1536,height:1965,devicePixelRatio:1});
chart.setOption(option);
</script></body></html>
